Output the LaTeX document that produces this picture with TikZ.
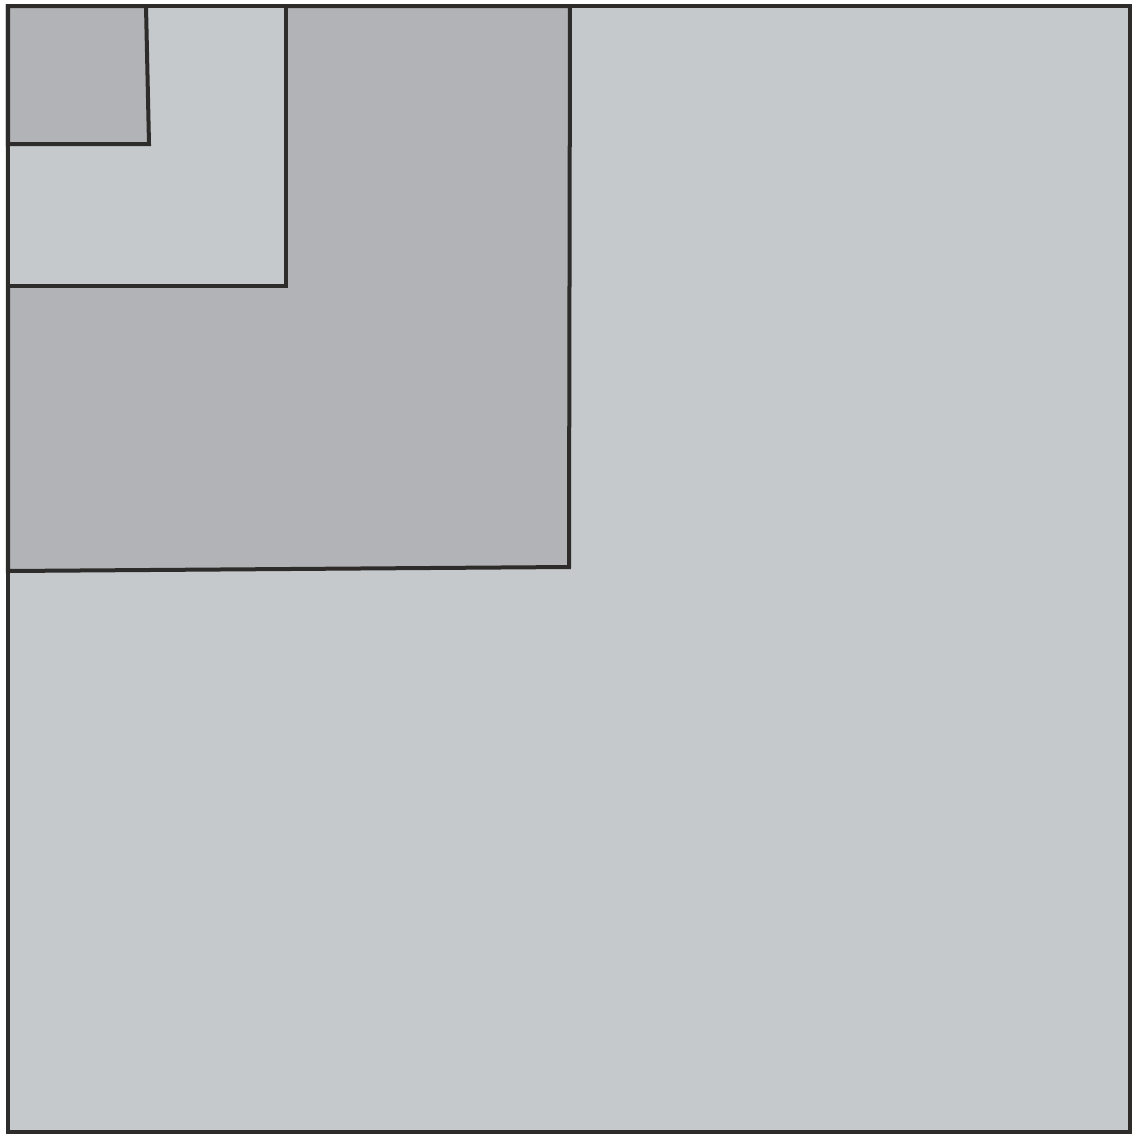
\documentclass[tikz,border=0pt]{standalone}
\usepackage{xcolor}
\usepackage{tikz}
\definecolor{lightc}{HTML}{C5C9CB}
\definecolor{darkc}{HTML}{B2B3B6}
\definecolor{edgec}{HTML}{2E2C2A}
\tikzset{
  sq/.style={draw=edgec,line width=0.04cm,line join=miter}
}

\begin{document}
\begin{tikzpicture}[x=0.01cm,y=-0.01cm]
\useasboundingbox (0,0) rectangle (1135,1135);
\draw[sq,fill=lightc] (8,6) rectangle (1130,1132);
\draw[sq,fill=darkc] (8,6) -- (570,6) -- (569,567) -- (8,571) -- cycle;
\draw[sq,fill=lightc] (8,6) -- (286,6) -- (286,286) -- (8,286) -- cycle;
\draw[sq,fill=darkc] (8,6) -- (146,6) -- (149,144) -- (8,144) -- cycle;
\end{tikzpicture}
\end{document}
